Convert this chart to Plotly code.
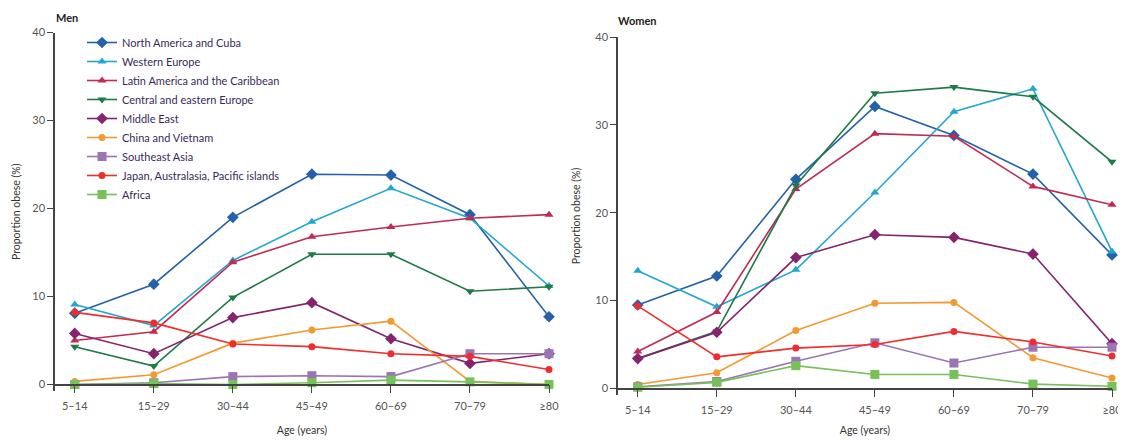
import plotly.graph_objects as go

ages = ["5–14", "15–29", "30–44", "45–49", "60–69", "70–79", "≥80"]
regions = [
    "North America and Cuba",
    "Western Europe",
    "Latin America and the Caribbean",
    "Central and eastern Europe",
    "Middle East",
    "China and Vietnam",
    "Southeast Asia",
    "Japan, Australasia, Pacific islands",
    "Africa",
]

men = {
    "North America and Cuba":              [8.1, 11.4, 19.0, 23.9, 23.8, 19.3, 7.7],
    "Western Europe":                      [9.1, 6.7, 14.1, 18.5, 22.3, 18.9, 11.2],
    "Latin America and the Caribbean":     [5.0, 6.0, 13.9, 16.8, 17.9, 18.9, 19.3],
    "Central and eastern Europe":          [4.3, 2.1, 9.9, 14.8, 14.8, 10.6, 11.1],
    "Middle East":                         [5.8, 3.5, 7.6, 9.3, 5.2, 2.4, 3.5],
    "China and Vietnam":                   [0.35, 1.1, 4.7, 6.2, 7.2, 0.35, 0.0],
    "Southeast Asia":                      [0.0, 0.2, 0.9, 1.0, 0.9, 3.5, 3.5],
    "Japan, Australasia, Pacific islands": [8.2, 7.0, 4.6, 4.3, 3.5, 3.2, 1.7],
    "Africa":                              [0.0, 0.1, 0.0, 0.2, 0.5, 0.3, 0.0],
}

women = {
    "North America and Cuba":              [9.5, 12.8, 23.8, 32.1, 28.8, 24.4, 15.2],
    "Western Europe":                      [13.4, 9.3, 13.5, 22.3, 31.5, 34.1, 15.6],
    "Latin America and the Caribbean":     [4.2, 8.7, 22.7, 29.0, 28.7, 23.0, 20.9],
    "Central and eastern Europe":          [3.4, 6.5, 23.1, 33.6, 34.3, 33.2, 25.8],
    "Middle East":                         [3.4, 6.4, 14.9, 17.5, 17.2, 15.3, 5.1],
    "China and Vietnam":                   [0.45, 1.8, 6.6, 9.7, 9.8, 3.5, 1.2],
    "Southeast Asia":                      [0.2, 0.8, 3.1, 5.2, 2.9, 4.7, 4.7],
    "Japan, Australasia, Pacific islands": [9.4, 3.6, 4.6, 5.0, 6.5, 5.3, 3.7],
    "Africa":                              [0.15, 0.7, 2.6, 1.6, 1.6, 0.5, 0.25],
}

styles = {
    "North America and Cuba":              ("#2461aa", "diamond", 9),
    "Western Europe":                      ("#22a7d1", "triangle-up", 8),
    "Latin America and the Caribbean":     ("#c22a52", "triangle-up", 8),
    "Central and eastern Europe":          ("#1f7a48", "triangle-down", 8),
    "Middle East":                         ("#84246f", "diamond", 9),
    "China and Vietnam":                   ("#f29a30", "circle", 7),
    "Southeast Asia":                      ("#9b74b6", "square", 9),
    "Japan, Australasia, Pacific islands": ("#f22c2c", "circle", 7),
    "Africa":                              ("#76c159", "square", 9),
}

FONT = "Lato, 'Liberation Sans', Arial, sans-serif"
AX = "#444444"
TICKC = "#555555"

fig = go.Figure()

for panel, data, xa, ya in [("men", men, "x", "y"), ("women", women, "x2", "y2")]:
    for r in regions:
        col, sym, sz = styles[r]
        fig.add_trace(go.Scatter(
            x=ages, y=data[r], mode="lines+markers", name=r,
            line=dict(color=col, width=1.6),
            marker=dict(color=col, symbol=sym, size=sz),
            xaxis=xa, yaxis=ya, cliponaxis=False,
            showlegend=(panel == "men"), legendgroup=r,
        ))

# the page body has an 8px margin, so the figure is shrunk and offset by it
OFF = 8
W, H = 1126 - OFF, 440 - OFF

def px(v):
    return (v - OFF) / W

def py(v):
    return 1 - (v - OFF) / H

common_x = dict(
    type="category", categoryorder="array", categoryarray=ages,
    range=[-0.25, 6.0], showgrid=False, zeroline=False,
    showline=True, linecolor=AX, linewidth=1.5,
    ticks="outside", ticklen=8, tickcolor=AX, tickwidth=1.2,
    ticklabelstandoff=4,
    tickfont=dict(size=11, color=TICKC, family=FONT),
    anchor="free", fixedrange=True, automargin=False,
)
common_y = dict(
    showgrid=False, zeroline=False, showline=True, linecolor=AX, linewidth=1.5,
    ticks="outside", ticklen=6, tickcolor=AX, tickwidth=1.2,
    tickvals=[0, 10, 20, 30, 40],
    tickfont=dict(size=11, color=TICKC, family=FONT),
    fixedrange=True, automargin=False,
)

TITLEFONT = dict(size=10.5, color="#333", family=FONT)

# left panel: y=0 at 384px, y=40 at 32.5px
lt, lb0 = 32.5, 384.5
lppu = (lb0 - lt) / 40
lbot = 391.0
fig.update_layout(
    xaxis=dict(common_x, domain=[px(55), px(549)], position=py(lb0),
               title=dict(text="Age (years)", font=TITLEFONT, standoff=14)),
    yaxis=dict(common_y, domain=[py(lbot), py(lt)], range=[-(lbot - lb0) / lppu, 40], anchor="x",
               title=dict(text="Proportion obese (%)", font=TITLEFONT, standoff=10)),
)

# right panel: y=0 at 388px, y=40 at 37px
rt, rb0 = 37.0, 388.5
rppu = (rb0 - rt) / 40
rbot = 395.0
fig.update_layout(
    xaxis2=dict(common_x, domain=[px(618), px(1112)], position=py(rb0),
                title=dict(text="Age (years)", font=TITLEFONT, standoff=10)),
    yaxis2=dict(common_y, domain=[py(rbot), py(rt)], range=[-(rbot - rb0) / rppu, 40], anchor="x2",
                title=dict(text="Proportion obese (%)", font=TITLEFONT, standoff=13)),
)

fig.add_annotation(text="<b>Men</b>", x=px(54), y=py(18), xref="paper", yref="paper",
                   xanchor="left", yanchor="middle", showarrow=False,
                   font=dict(size=11, color="#222", family=FONT))
fig.add_annotation(text="<b>Women</b>", x=px(616), y=py(20), xref="paper", yref="paper",
                   xanchor="left", yanchor="middle", showarrow=False,
                   font=dict(size=11, color="#222", family=FONT))

fig.update_layout(
    width=W, height=H,
    margin=dict(l=0, r=0, t=0, b=0, autoexpand=False),
    paper_bgcolor="white", plot_bgcolor="white",
    font=dict(family=FONT, color="#333"),
    legend=dict(x=px(82), y=py(28), xanchor="left", yanchor="top",
                bgcolor="rgba(0,0,0,0)", font=dict(size=11, color="#3a2a5a", family=FONT),
                tracegroupgap=0, itemwidth=30),
)

fig.write_html("out.html")
